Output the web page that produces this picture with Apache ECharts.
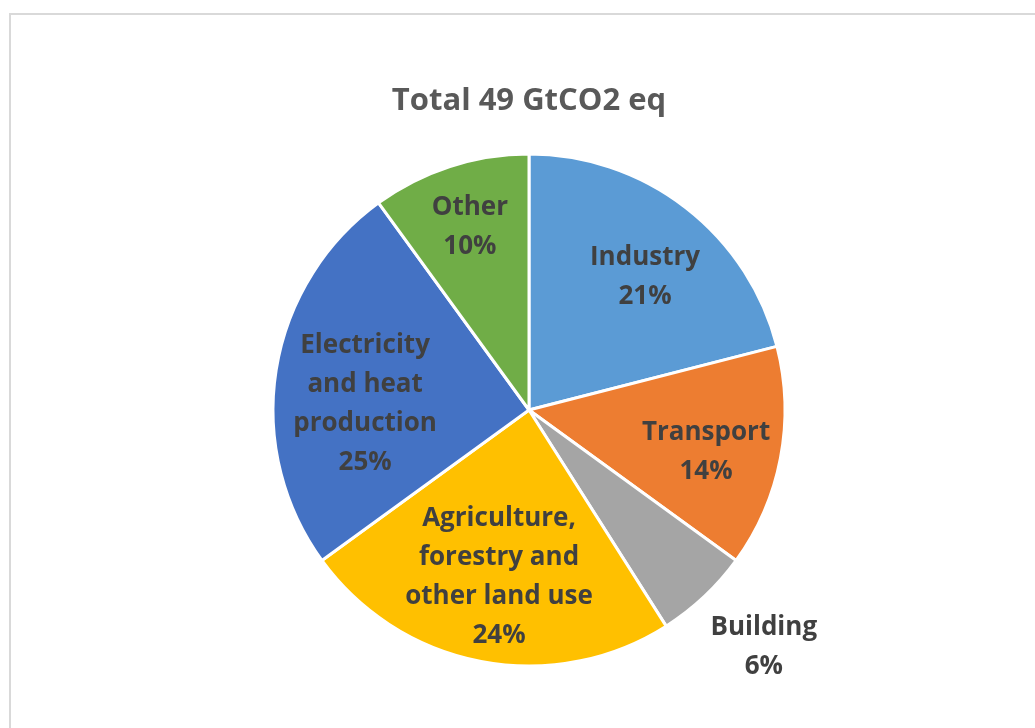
<!DOCTYPE html>
<html>
<head>
<meta charset="utf-8">
<script src="https://cdn.jsdelivr.net/npm/echarts@6/dist/echarts.min.js"></script>
<style>
  html, body { margin: 0; padding: 0; background: #fff; }
  #chart { width: 1035px; height: 728px; }
</style>
</head>
<body>
<div id="chart"></div>
<script>
// Global greenhouse gas emissions by sector
const sectors = ['Industry', 'Transport', 'Building', 'Agriculture,\nforestry and\nother land use', 'Electricity\nand heat\nproduction', 'Other'];
const shares = [21, 14, 6, 24, 25, 10];
const sectorColors = ['#5B9BD5', '#ED7D31', '#A5A5A5', '#FFC000', '#4472C4', '#70AD47'];
const chartTitle = 'Total 49 GtCO2 eq';

// label placement: distance from the centre (fraction of radius) and turn from the slice mid-angle (degrees)
const labelReach = [0.695, 0.709, 1.297, 0.655, 0.641, 0.759];
const labelTurn = [2.9, 1.9, -1.8, -0.5, -6.2, 0.3];

const center = [529, 410];
const radius = 256;

const total = shares.reduce((a, b) => a + b, 0);
const midAngles = [];
let acc = 0;
shares.forEach(v => { midAngles.push((acc + v / 2) / total * 360); acc += v; });

const chart = echarts.init(document.getElementById('chart'), null, { renderer: 'canvas' });

chart.setOption({
  animation: false,
  backgroundColor: '#ffffff',
  title: {
    text: chartTitle,
    left: 524,
    top: 81,
    textAlign: 'center',
    textStyle: { fontFamily: 'Open Sans', fontWeight: 'bold', fontSize: 31, color: '#595959' }
  },
  graphic: [{
    type: 'rect',
    shape: { x: 10, y: 14, width: 1040, height: 730 },
    style: { fill: 'none', stroke: '#d9d9d9', lineWidth: 2 },
    silent: true
  }],
  series: [{
    type: 'pie',
    center: center,
    radius: [0, radius],
    startAngle: 90,
    clockwise: true,
    data: sectors.map((name, i) => ({ name: name, value: shares[i] })),
    color: sectorColors,
    itemStyle: { borderColor: '#ffffff', borderWidth: 3 },
    label: {
      show: true,
      position: 'inside',
      formatter: p => p.name + '\n' + p.value + '%',
      fontFamily: 'Open Sans',
      fontWeight: 'bold',
      fontSize: 26,
      lineHeight: 39,
      color: '#404040',
      align: 'center'
    },
    labelLine: { show: false },
    labelLayout: p => {
      const i = p.dataIndex;
      const a = (midAngles[i] + labelTurn[i]) * Math.PI / 180;
      const d = labelReach[i] * radius;
      return {
        x: center[0] + d * Math.sin(a),
        y: center[1] - d * Math.cos(a) + 2,
        align: 'center',
        verticalAlign: 'middle'
      };
    },
    emphasis: { disabled: true }
  }]
});
</script>
</body>
</html>
